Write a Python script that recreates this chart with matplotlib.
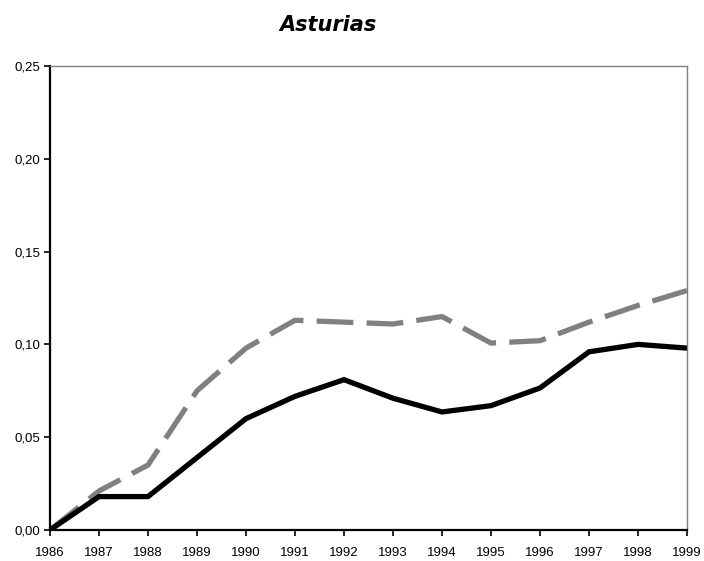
import matplotlib.pyplot as plt

plt.rcParams['font.family'] = ['Liberation Sans', 'DejaVu Sans']
plt.rcParams['lines.scale_dashes'] = False

# Datos
years = list(range(1986, 2000))
serie_negra = [0.0, 0.018, 0.018, 0.039, 0.060, 0.072, 0.081, 0.071, 0.0636, 0.067, 0.0765, 0.096, 0.100, 0.098]
serie_gris = [0.0, 0.021, 0.035, 0.075, 0.098, 0.113, 0.112, 0.111, 0.115, 0.1007, 0.102, 0.112, 0.121, 0.129]
yticks = [0.0, 0.05, 0.10, 0.15, 0.20, 0.25]

fig = plt.figure(figsize=(7.04, 5.61), dpi=100)
ax = fig.add_axes([50 / 704, 31 / 561, 637 / 704, 464 / 561])

ax.plot(years, serie_gris, color='#808080', linewidth=3.8,
        dashes=(26.5, 9.5), solid_capstyle='butt', dash_capstyle='butt')
ax.plot(years, serie_negra, color='black', linewidth=3.8, solid_joinstyle='miter')

ax.set_xlim(1986, 1999)
ax.set_ylim(0, 0.25)
ax.set_xticks(years)
ax.set_xticklabels([str(y) for y in years], fontsize=9.5)
ax.set_yticks(yticks)
ax.set_yticklabels([f'{v:.2f}'.replace('.', ',') for v in yticks], fontsize=9.5)
ax.tick_params(direction='out', length=4, width=1.2)
ax.tick_params(axis='x', pad=8)
ax.tick_params(axis='y', pad=3)

ax.spines['left'].set_linewidth(1.6)
ax.spines['bottom'].set_linewidth(1.6)
ax.spines['top'].set_color('#808080')
ax.spines['right'].set_color('#808080')
ax.spines['top'].set_linewidth(1)
ax.spines['right'].set_linewidth(1)

fig.text(328 / 704, 1 - 25 / 561, 'Asturias', ha='center', va='center',
         fontsize=15, fontweight='bold', fontstyle='italic', family='DejaVu Sans')

fig.savefig('out.png', dpi=100)
